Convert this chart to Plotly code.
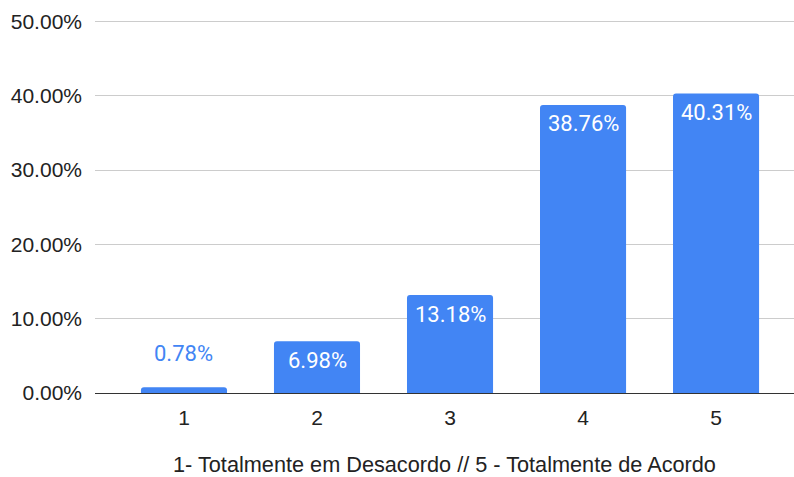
import plotly.graph_objects as go

categories = ["1", "2", "3", "4", "5"]
values = [0.0078, 0.0698, 0.1318, 0.3876, 0.4031]
labels = ["0.78%", "6.98%", "13.18%", "38.76%", "40.31%"]
y_ticks = [0, 0.1, 0.2, 0.3, 0.4, 0.5]
y_tick_labels = ["0.00%", "10.00%", "20.00%", "30.00%", "40.00%", "50.00%"]
x_title = "1- Totalmente em Desacordo // 5 - Totalmente de Acordo"

blue = "#4285f4"
xpos = list(range(len(categories)))

fig = go.Figure(go.Bar(
    x=xpos, y=values, width=0.647,
    marker=dict(color=blue, line=dict(width=0)),
    hoverinfo="skip",
))

# labels: first (small) bar above, others inside near the top
for i, (v, lab) in enumerate(zip(values, labels)):
    outside = i == 0
    fig.add_annotation(
        x=xpos[i], y=v, text=lab, showarrow=False,
        yanchor="middle", yshift=34 if outside else -19,
        font=dict(family="Roboto", size=22, color=blue if outside else "white"),
    )

fig.update_layout(
    width=794, height=477,
    margin=dict(l=95, r=0, t=13.5, b=83.5),
    plot_bgcolor="white", paper_bgcolor="white",
    barcornerradius=3,
    showlegend=False,
    xaxis=dict(
        range=[-0.669, 4.586], tickvals=xpos, ticktext=categories,
        showgrid=False, showline=False, zeroline=False, automargin=False,
        tickfont=dict(family="Liberation Sans", size=21, color="#222"),
        ticks="", ticklen=0, ticklabelstandoff=10,
        title=dict(text=x_title, standoff=35,
                   font=dict(family="Liberation Sans", size=21.7, color="#222")),
    ),
    yaxis=dict(
        range=[0, 0.51], tickvals=y_ticks, ticktext=y_tick_labels,
        showgrid=True, gridcolor="#cccccc", gridwidth=1, automargin=False,
        zeroline=True, zerolinecolor="#333333", zerolinewidth=1.3,
        showline=False, ticks="",
        tickfont=dict(family="Liberation Sans", size=21, color="#222"),
        ticklabelstandoff=12,
    ),
)

fig.write_html("out.html", config={"displayModeBar": False},
               post_script="document.body.style.margin='0';")
